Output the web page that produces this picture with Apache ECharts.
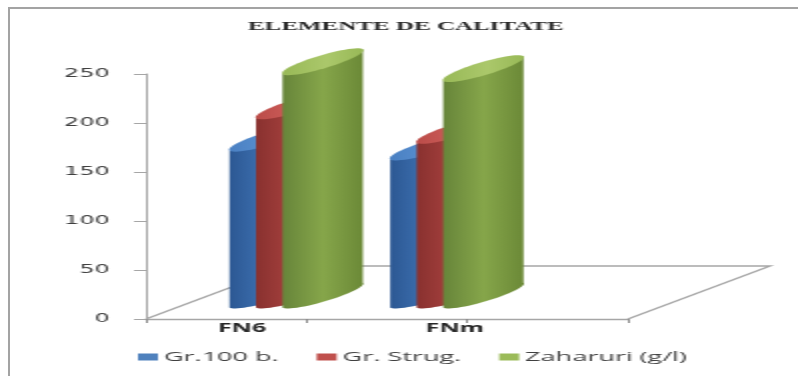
<!DOCTYPE html>
<html>
<head>
<meta charset="utf-8">
<script src="https://cdn.jsdelivr.net/npm/echarts@6/dist/echarts.min.js"></script>
<style>
html,body{margin:0;padding:0;background:#ffffff;overflow:hidden;width:798px;height:376px;}
#frame{position:absolute;left:8px;top:7px;width:800px;height:380px;border-left:2px solid #a3a3a3;border-top:2px solid #a3a3a3;box-sizing:border-box;}
#chart{position:absolute;left:0;top:0;width:399px;height:376px;transform:scaleX(2);transform-origin:0 0;}
</style>
</head>
<body>
<div id="frame"></div>
<div id="chart"></div>
<script>
// ---- data ----
const titleText = 'ELEMENTE DE CALITATE';
const categories = ['FN6', 'FNm'];
const seriesNames = ['Gr.100 b.', 'Gr. Strug.', 'Zaharuri (g/l)'];
const grBoabe = [160, 151];     // Gr.100 b.
const grStrug = [193, 168];     // Gr. Strug.
const zaharuri = [238, 231];    // Zaharuri (g/l)
const yMin = 0, yMax = 250, yStep = 50;

// ---- styling helpers ----
const DEPTH_FRAC = 0.884;   // floor depth as fraction of a category band (x)
const DEPTH_PX = 53;        // floor depth rise in px (y)
const MID_SHIFT = 24;       // cylinders stand at mid depth

const palette = [
  { legend: '#4F81BD', body: ['#2c5893', '#4074b6', '#2f5d98'], top: ['#4a80c2', '#5b92d3'] },
  { legend: '#C0504D', body: ['#89312f', '#aa4340', '#8c3331'], top: ['#bb4c49', '#cf605c'] },
  { legend: '#9BBB59', body: ['#67853a', '#86a64a', '#6b8937'], top: ['#98b957', '#abc86b'] }
];
const offsets = [0.27, 0.435, 0.60];

function cylinder(idx) {
  const col = palette[idx];
  const off = offsets[idx];
  return function (params, api) {
    const cat = api.value(0), val = api.value(1);
    const band = api.size([1, 0])[0];
    const topP = api.coord([cat, val]);
    const baseP = api.coord([cat, 0]);
    const cx = baseP[0] + band * off;
    const yb = baseP[1] - MID_SHIFT;
    const yt = topP[1] - MID_SHIFT;
    const halfW = band * 0.25;
    const rise = halfW * 0.62;
    const a = Math.hypot(halfW, rise), phi = Math.atan2(rise, halfW);
    const b = 6;
    const u = [Math.cos(phi), -Math.sin(phi)];
    const v = [Math.sin(phi), Math.cos(phi)];
    const pt = (cy, t) => [cx + a * Math.cos(t) * u[0] + b * Math.sin(t) * v[0],
                           cy + a * Math.cos(t) * u[1] + b * Math.sin(t) * v[1]];
    const body = [pt(yt, Math.PI)];
    for (let i = 0; i <= 30; i++) body.push(pt(yb, Math.PI - Math.PI * i / 30));
    body.push(pt(yt, 0));
    const lid = [];
    for (let i = 0; i < 60; i++) lid.push(pt(yt, 2 * Math.PI * i / 60));
    return {
      type: 'group',
      children: [
        { type: 'polygon', shape: { points: body },
          style: { fill: new echarts.graphic.LinearGradient(0, 0, 1, 0, [
            { offset: 0, color: col.body[0] }, { offset: 0.5, color: col.body[1] }, { offset: 1, color: col.body[2] }]) } },
        { type: 'polygon', shape: { points: lid },
          style: { fill: new echarts.graphic.LinearGradient(0, 0, 1, 0, [
            { offset: 0, color: col.top[0] }, { offset: 0.55, color: col.top[1] }, { offset: 1, color: col.top[0] }]) } }
      ]
    };
  };
}

function floor(params, api) {
  const cs = params.coordSys;
  const band = api.size([1, 0])[0];
  const dx = band * DEPTH_FRAC;
  const fl = [cs.x, cs.y + cs.height];
  const fr = [cs.x + cs.width, cs.y + cs.height];
  const bl = [fl[0] + dx, fl[1] - DEPTH_PX];
  const br = [fr[0] + dx, fr[1] - DEPTH_PX];
  return {
    type: 'polyline',
    shape: { points: [fl, bl, br, fr] },
    style: { stroke: '#a6a6a6', lineWidth: 1.4, fill: null }
  };
}

const values = [grBoabe, grStrug, zaharuri];
const chart = echarts.init(document.getElementById('chart'), null, { renderer: 'canvas' });
chart.setOption({
  animation: false,
  title: {
    text: titleText, left: 124, top: 20, padding: 0,
    textStyle: { fontFamily: 'Liberation Serif', fontWeight: 'bold', fontSize: 12.5, color: '#262626' }
  },
  legend: {
    data: seriesNames, left: 69, top: 350, padding: 0, icon: 'rect',
    itemWidth: 10, itemHeight: 7, itemGap: 19,
    textStyle: { fontFamily: 'Open Sans', fontSize: 13.5, color: '#404040', padding: [0, 0, 0, -2] }
  },
  grid: [
    { left: 73, width: 241, top: 74, bottom: 57 },
    { left: 67.75, width: 213, top: 74, bottom: 57 }
  ],
  xAxis: [
    { type: 'category', gridIndex: 0, data: categories, max: categories.length,
      boundaryGap: true,
      axisLine: { show: true, lineStyle: { color: '#a6a6a6', width: 1.4 } },
      axisTick: { show: true, length: 4, lineStyle: { color: '#8c8c8c', width: 1 } },
      axisLabel: { show: false }, splitLine: { show: false } },
    { type: 'category', gridIndex: 1, data: categories, boundaryGap: true,
      axisLine: { show: false }, axisTick: { show: false }, splitLine: { show: false },
      axisLabel: { show: true, margin: 3, fontFamily: 'Open Sans', fontWeight: 'bold', fontSize: 12.5, color: '#262626' } }
  ],
  yAxis: [
    { type: 'value', gridIndex: 0, min: yMin, max: yMax, interval: yStep,
      axisLine: { show: true, lineStyle: { color: '#a6a6a6', width: 1 } },
      axisTick: { show: true, length: 6, lineStyle: { color: '#a6a6a6', width: 1 } },
      splitLine: { show: false },
      axisLabel: { margin: 18, fontFamily: 'DejaVu Sans', fontSize: 12, color: '#404040' } },
    { type: 'value', gridIndex: 1, min: yMin, max: yMax, show: false }
  ],
  series: [
    { type: 'custom', name: 'floor', xAxisIndex: 0, yAxisIndex: 0, silent: true,
      renderItem: floor, data: [[0, 0]] },
    ...seriesNames.map((n, i) => ({
      type: 'custom', name: n, xAxisIndex: 0, yAxisIndex: 0,
      itemStyle: { color: palette[i].legend },
      renderItem: cylinder(i),
      data: categories.map((c, k) => [k, values[i][k]])
    }))
  ]
});
</script>
</body>
</html>
